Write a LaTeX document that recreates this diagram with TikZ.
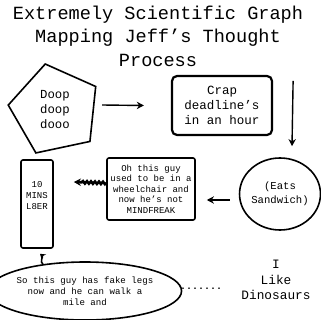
\documentclass[tikz,border=0pt]{standalone}
\usepackage{fontspec}
\setmainfont{Liberation Mono}
\usetikzlibrary{positioning,arrows.meta,shapes.geometric,decorations.pathmorphing}

\begin{document}
\begin{tikzpicture}[x=1pt,y=-1pt,>={Stealth[length=2.5mm,width=2.6mm]},
  box/.style={draw,line width=1.6pt,rounded corners=2pt,align=center,inner sep=0pt},
  arr/.style={->,line width=1.4pt}]
\useasboundingbox (0,0) rectangle (320,320);
\node[align=center,font=\fontsize{18.6}{23.5}\selectfont] (title) at (158,36) {Extremely Scientific Graph\\Mapping Jeff's Thought\\Process};
\node[regular polygon,regular polygon sides=5,shape border rotate=12,minimum size=94pt,draw,line width=1.6pt,inner sep=0pt,align=center,font=\fontsize{12.3}{15}\selectfont] (pent) at (55,110) {Doop\\doop\\dooo};
\node[box,rounded corners=5pt,line width=2.2pt,minimum width=100pt,minimum height=59pt,font=\fontsize{12.5}{15}\selectfont] (crap) at (222,105.5) {Crap\\deadline's\\in an hour};
\node[ellipse,draw,line width=1.6pt,minimum width=66pt,minimum height=72pt,inner sep=0pt,align=center,font=\fontsize{10.6}{14}\selectfont] (eats) at (280,194) {(Eats\\Sandwich)};
\node[box,minimum width=88pt,minimum height=62pt,font=\fontsize{9}{10.6}\selectfont] (oh) at (151,189) {Oh this guy\\used to be in a\\wheelchair and\\now he's not\\MINDFREAK};
\node[box,minimum width=32pt,minimum height=88pt] (mins) at (37,204) {};
\node[align=center,font=\fontsize{9}{11}\selectfont] (minstext) at (37,196) {10\\MINS\\L8ER};
\node[ellipse,draw,line width=1.6pt,minimum width=172pt,minimum height=58pt,inner sep=0pt,align=center,font=\fontsize{9.1}{11}\selectfont] (legs) at (85,291) {So this guy has fake legs\\now and he can walk a\\mile and};
\node[font=\fontsize{10}{11}\bfseries] (dots) at (201,289) {.......};
\node[align=center,font=\fontsize{12.8}{15.5}\selectfont] (dino) at (276,280) {I\\Like\\Dinosaurs};
% arrows
\draw[arr] ([shift={(8pt,5pt)}]pent.east) -- ([shift={(-27pt,0pt)}]crap.west);
\draw[arr] ([shift={(20pt,-6pt)}]crap.north east) -- ([shift={(12pt,11pt)}]eats.north);
\draw[arr] ([shift={(-9pt,-6pt)}]eats.west) -- ([shift={(11pt,-11pt)}]oh.east);
\draw[arr,line width=2.6pt,decorate,decoration={snake,amplitude=1.2pt,segment length=4pt,post length=7pt}] ([yshift=6pt]oh.west) -- ([shift={(20pt,22pt)}]mins.east);
\draw[arr,line width=1.5pt,>={Stealth[length=1.8mm,width=2.4mm]}] ([shift={(-42pt,-3pt)}]legs.north) to[out=150,in=-40] ([shift={(3pt,-5pt)}]mins.south);
\end{tikzpicture}
\end{document}
